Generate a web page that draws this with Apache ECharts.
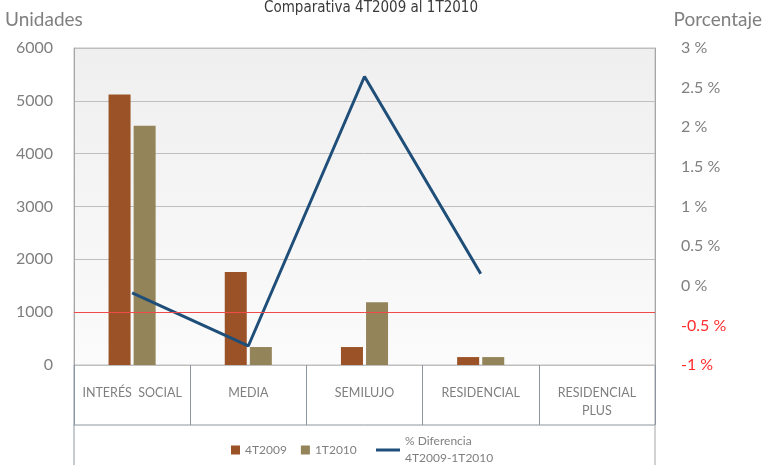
<!DOCTYPE html>
<html>
<head>
<meta charset="utf-8">
<script src="https://cdn.jsdelivr.net/npm/echarts@6/dist/echarts.min.js"></script>
<style>
  html, body { margin: 0; padding: 0; background: #fff; }
  #chart { width: 767px; height: 465px; }
</style>
</head>
<body>
<div id="chart"></div>
<script>
// datos
const categorias = ['INTERÉS  SOCIAL', 'MEDIA', 'SEMILUJO', 'RESIDENCIAL', 'RESIDENCIAL\nPLUS']
const t4_2009 = [5120, 1760, 340, 150, 0]
const t1_2010 = [4530, 340, 1190, 150, 0]
const diferencia = [-0.09, -0.76, 2.64, 0.15, null]
const ticksUnidades = [0, 1000, 2000, 3000, 4000, 5000, 6000]

const fuente = 'Lato'
const gris = '#7f7f7f'

const chart = echarts.init(document.getElementById('chart'))
chart.setOption({
  animation: false,
  textStyle: { fontFamily: fuente },
  title: [
    {
      text: 'Comparativa 4T2009 al 1T2010',
      left: 366, top: -4,
      textAlign: 'center',
      textStyle: { fontFamily: '"DejaVu Sans Condensed", "Liberation Sans Narrow", sans-serif', fontSize: 15, fontWeight: 'normal', color: '#3a3a3a' }
    },
    {
      text: 'Unidades', left: 0, top: 5,
      textStyle: { fontFamily: fuente, fontSize: 19, fontWeight: 'normal', color: gris }
    },
    {
      text: 'Porcentaje', right: 0, top: 5,
      textStyle: { fontFamily: fuente, fontSize: 19, fontWeight: 'normal', color: gris }
    }
  ],
  grid: {
    left: 74, right: 112, top: 48, bottom: 100,
    show: true,
    borderColor: '#bfbfbf',
    backgroundColor: new echarts.graphic.LinearGradient(0, 0, 0, 1, [
      { offset: 0, color: '#efefef' },
      { offset: 1, color: '#fbfbfb' }
    ])
  },
  legend: [
    {
      data: ['4T2009', '1T2010'],
      left: 226, top: 439,
      itemWidth: 9, itemHeight: 9, itemGap: 14,
      icon: 'rect',
      textStyle: { fontSize: 12, color: gris, fontFamily: fuente }
    },
    {
      data: ['% Diferencia 4T2009-1T2010'],
      left: 371, top: 428,
      itemWidth: 24, itemHeight: 3,
      icon: 'rect',
      formatter: () => '% Diferencia\n4T2009-1T2010',
      textStyle: { fontSize: 12, lineHeight: 17, color: gris, fontFamily: fuente }
    }
  ],
  xAxis: {
    type: 'category',
    data: categorias,
    axisLine: { lineStyle: { color: '#bfbfbf' } },
    axisTick: { show: true, length: 60, interval: 0, lineStyle: { color: '#8c96a0' } },
    axisLabel: {
      interval: 0, margin: 19, color: gris, fontSize: 12.5, lineHeight: 18,
      fontFamily: fuente
    }
  },
  yAxis: [
    {
      type: 'value',
      min: 0, max: 6000, interval: 1000,
      axisLine: { show: true, lineStyle: { color: '#a6a6a6' } },
      axisTick: { show: false },
      splitLine: { lineStyle: { color: '#bfbfbf' } },
      axisLabel: { color: gris, fontSize: 16, margin: 21, fontFamily: fuente, formatter: v => String(v) }
    },
    {
      type: 'value',
      min: -1, max: 3, interval: 0.5,
      position: 'right',
      axisLine: { show: true, lineStyle: { color: '#a6a6a6' } },
      axisTick: { show: false },
      splitLine: { show: false },
      axisLabel: {
        margin: 26, fontSize: 16, align: 'left', fontFamily: fuente,
        formatter: v => v + ' %',
        color: v => (v < 0 ? '#ff2d2d' : gris)
      }
    }
  ],
  graphic: [
    { type: 'line', shape: { x1: 74, y1: 425, x2: 655, y2: 425 }, style: { stroke: '#8c96a0', lineWidth: 1 } },
    { type: 'line', shape: { x1: 74, y1: 365, x2: 74, y2: 465 }, style: { stroke: '#8c96a0', lineWidth: 1 } },
    { type: 'line', shape: { x1: 655, y1: 365, x2: 655, y2: 465 }, style: { stroke: '#a6a6a6', lineWidth: 1 } }
  ],
  series: [
    {
      name: '4T2009',
      type: 'bar',
      data: t4_2009,
      barWidth: 22,
      barGap: '14%',
      itemStyle: { color: '#9b5226' },
      markLine: {
        silent: true,
        symbol: 'none',
        label: { show: false },
        lineStyle: { color: '#f04a4a', width: 1, type: 'solid' },
        data: [{ yAxis: ticksUnidades[1] }]
      }
    },
    {
      name: '1T2010',
      type: 'bar',
      data: t1_2010,
      barWidth: 22,
      itemStyle: { color: '#948459' }
    },
    {
      name: '% Diferencia 4T2009-1T2010',
      type: 'line',
      yAxisIndex: 1,
      data: diferencia,
      symbol: 'none',
      lineStyle: { color: '#1f4e79', width: 3 },
      itemStyle: { color: '#1f4e79' }
    }
  ]
})
</script>
</body>
</html>
